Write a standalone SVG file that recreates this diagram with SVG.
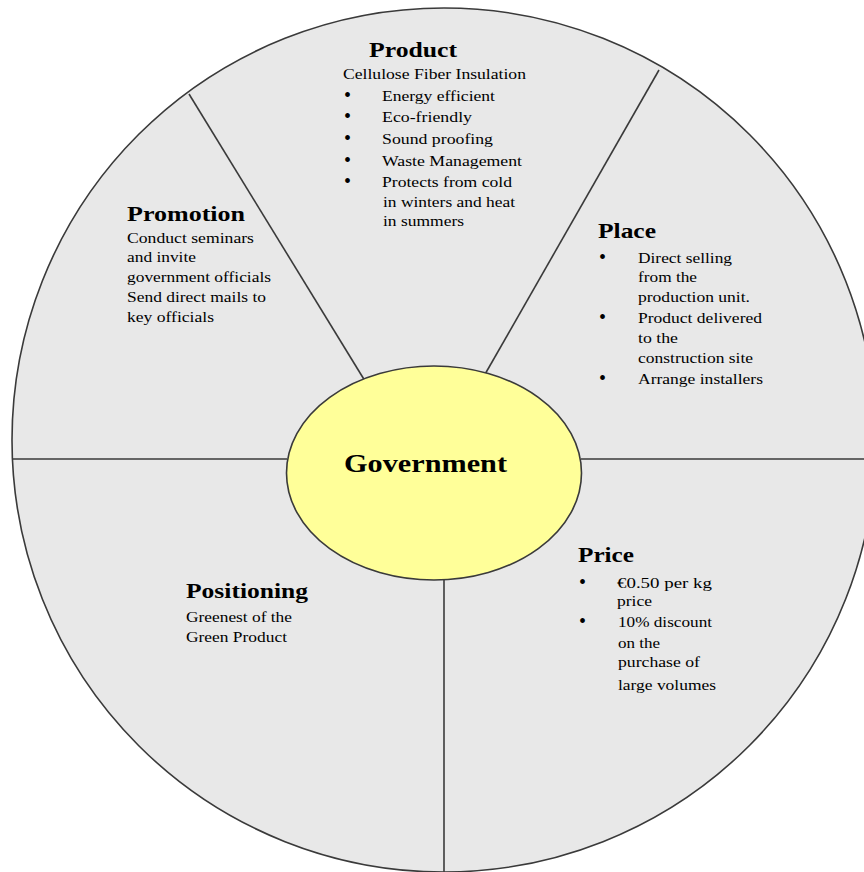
<svg xmlns="http://www.w3.org/2000/svg" width="864" height="872" viewBox="0 0 864 872">
<style>
.ln{stroke:#3a3a3a;stroke-width:1.6;fill:none}
.t{font-family:"Liberation Serif","Times New Roman",serif;fill:#000}
.h{font-size:22px;font-weight:bold}
.b{font-size:15px}
.u{font-size:20px;font-family:"Liberation Serif","Times New Roman",serif;fill:#000}
.g{font-size:26px;font-weight:bold}
</style>
<rect x="0" y="0" width="864" height="872" fill="#ffffff"/>
<g id="wheel">
<circle cx="444" cy="440" r="432" fill="#e8e8e8" stroke="#3a3a3a" stroke-width="1.6"/>
</g>
<g id="connectors">
<line class="ln" x1="189" y1="94" x2="365" y2="381"/>
<line class="ln" x1="659" y1="70" x2="484" y2="376"/>
<line class="ln" x1="12" y1="459" x2="287" y2="459"/>
<line class="ln" x1="581" y1="459" x2="864" y2="459"/>
<line class="ln" x1="444" y1="579" x2="444" y2="872"/>
</g>
<g id="product">
<text class="t h" x="369" y="57" textLength="88" lengthAdjust="spacingAndGlyphs">Product</text>
<text class="t b" x="343" y="79" textLength="183" lengthAdjust="spacingAndGlyphs">Cellulose Fiber Insulation</text>
<text class="u" x="344" y="102">•</text>
<text class="t b" x="382" y="101" textLength="113" lengthAdjust="spacingAndGlyphs">Energy efficient</text>
<text class="u" x="344" y="123">•</text>
<text class="t b" x="382" y="122" textLength="90" lengthAdjust="spacingAndGlyphs">Eco-friendly</text>
<text class="u" x="344" y="145">•</text>
<text class="t b" x="382" y="144" textLength="111" lengthAdjust="spacingAndGlyphs">Sound proofing</text>
<text class="u" x="344" y="167">•</text>
<text class="t b" x="382" y="166" textLength="140" lengthAdjust="spacingAndGlyphs">Waste Management</text>
<text class="u" x="344" y="188">•</text>
<text class="t b" x="382" y="187" textLength="130" lengthAdjust="spacingAndGlyphs">Protects from cold</text>
<text class="t b" x="383" y="207" textLength="132" lengthAdjust="spacingAndGlyphs">in winters and heat</text>
<text class="t b" x="383" y="226" textLength="81" lengthAdjust="spacingAndGlyphs">in summers</text>
</g>
<g id="promotion">
<text class="t h" x="127" y="221" textLength="118" lengthAdjust="spacingAndGlyphs">Promotion</text>
<text class="t b" x="127" y="243" textLength="127" lengthAdjust="spacingAndGlyphs">Conduct seminars</text>
<text class="t b" x="127" y="262" textLength="69" lengthAdjust="spacingAndGlyphs">and invite</text>
<text class="t b" x="127" y="282" textLength="144" lengthAdjust="spacingAndGlyphs">government officials</text>
<text class="t b" x="127" y="302" textLength="139" lengthAdjust="spacingAndGlyphs">Send direct mails to</text>
<text class="t b" x="127" y="322" textLength="87" lengthAdjust="spacingAndGlyphs">key officials</text>
</g>
<g id="place">
<text class="t h" x="598" y="238" textLength="58" lengthAdjust="spacingAndGlyphs">Place</text>
<text class="u" x="599" y="264">•</text>
<text class="t b" x="638" y="263" textLength="94" lengthAdjust="spacingAndGlyphs">Direct selling</text>
<text class="t b" x="638" y="282" textLength="59" lengthAdjust="spacingAndGlyphs">from the</text>
<text class="t b" x="638" y="302" textLength="112" lengthAdjust="spacingAndGlyphs">production unit.</text>
<text class="u" x="599" y="324">•</text>
<text class="t b" x="638" y="323" textLength="124" lengthAdjust="spacingAndGlyphs">Product delivered</text>
<text class="t b" x="638" y="343" textLength="40" lengthAdjust="spacingAndGlyphs">to the</text>
<text class="t b" x="638" y="363" textLength="115" lengthAdjust="spacingAndGlyphs">construction site</text>
<text class="u" x="599" y="385">•</text>
<text class="t b" x="638" y="384" textLength="125" lengthAdjust="spacingAndGlyphs">Arrange installers</text>
</g>
<g id="price">
<text class="t h" x="578" y="562" textLength="56" lengthAdjust="spacingAndGlyphs">Price</text>
<text class="u" x="579" y="589">•</text>
<text class="t b" x="617" y="588" textLength="95" lengthAdjust="spacingAndGlyphs">€0.50 per kg</text>
<text class="t b" x="617" y="606" textLength="35" lengthAdjust="spacingAndGlyphs">price</text>
<text class="u" x="579" y="628">•</text>
<text class="t b" x="618" y="627" textLength="94" lengthAdjust="spacingAndGlyphs">10% discount</text>
<text class="t b" x="618" y="648" textLength="42" lengthAdjust="spacingAndGlyphs">on the</text>
<text class="t b" x="618" y="667" textLength="82" lengthAdjust="spacingAndGlyphs">purchase of</text>
<text class="t b" x="618" y="690" textLength="98" lengthAdjust="spacingAndGlyphs">large volumes</text>
</g>
<g id="positioning">
<text class="t h" x="186" y="598" textLength="122" lengthAdjust="spacingAndGlyphs">Positioning</text>
<text class="t b" x="186" y="622" textLength="106" lengthAdjust="spacingAndGlyphs">Greenest of the</text>
<text class="t b" x="186" y="642" textLength="101" lengthAdjust="spacingAndGlyphs">Green Product</text>
</g>
<g id="government">
<ellipse cx="434" cy="473" rx="147.5" ry="107" fill="#ffff99" stroke="#3a3a3a" stroke-width="1.6"/>
<text class="t g" x="344" y="472" textLength="163" lengthAdjust="spacingAndGlyphs">Government</text>
</g>
</svg>
